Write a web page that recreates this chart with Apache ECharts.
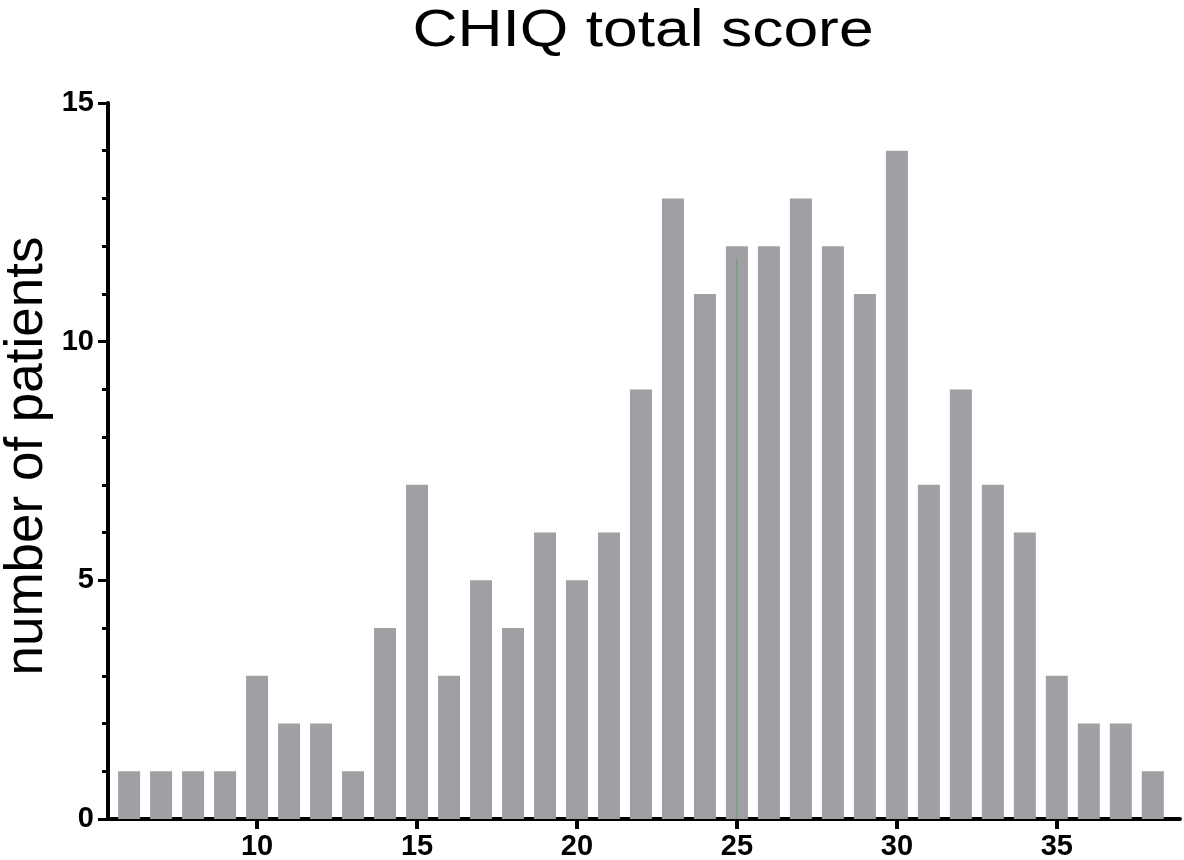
<!DOCTYPE html>
<html>
<head>
<meta charset="utf-8">
<script src="https://cdn.jsdelivr.net/npm/echarts@6/dist/echarts.min.js"></script>
<style>html,body{margin:0;padding:0;background:#fff;}#chart{width:1184px;height:860px;}</style>
</head>
<body>
<div id="chart"></div>
<script>
const titleText = 'CHIQ total score';
const yAxisName = 'number of patients';
const scores = [6,7,8,9,10,11,12,13,14,15,16,17,18,19,20,21,22,23,24,25,26,27,28,29,30,31,32,33,34,35,36,37,38];
const patients = [1,1,1,1,3,2,2,1,4,7,3,5,4,6,5,6,9,13,11,12,12,13,12,11,14,7,9,7,6,3,2,2,1];
const xTickValues = [10,15,20,25,30,35];
const medianScore = 25;
const medianLineTop = 11.75;

const chart = echarts.init(document.getElementById('chart'));
const labelStyle = { fontFamily: '"Liberation Sans", Arial, sans-serif', fontWeight: 'bold', fontSize: 29, color: '#000' };
chart.setOption({
  backgroundColor: '#fff',
  animation: false,
  graphic: [{
    type: 'text', x: 643, y: 32, scaleX: 1.2,
    style: { text: titleText, x: 0, y: 0, align: 'center', verticalAlign: 'middle',
             font: '52px "Liberation Sans", Arial, sans-serif', fill: '#000' }
  }, {
    type: 'text', x: 27, y: 456, rotation: Math.PI / 2,
    style: { text: yAxisName, x: 0, y: 0, align: 'center', verticalAlign: 'middle',
             font: '53px "Liberation Sans", Arial, sans-serif', fill: '#000' }
  }],
  grid: { left: 108, right: 4, top: 103, bottom: 41, containLabel: false, outerBoundsMode: 'none' },
  xAxis: {
    type: 'value', min: 5.34, max: 38.85,
    axisLine: { show: true, onZero: false, lineStyle: { color: '#000', width: 4 } },
    axisTick: { show: true, length: 10, lineStyle: { color: '#000', width: 4 }, customValues: xTickValues },
    axisLabel: {
      margin: 13, customValues: xTickValues,
      fontFamily: labelStyle.fontFamily, fontWeight: 'bold', fontSize: 29, color: '#000'
    },
    splitLine: { show: false }
  },
  yAxis: {
    type: 'value', min: 0, max: 15, interval: 5,
    axisLine: { show: true, lineStyle: { color: '#000', width: 4 } },
    axisTick: { show: true, length: 10, lineStyle: { color: '#000', width: 3 } },
    minorTick: { show: true, splitNumber: 5, length: 6, lineStyle: { color: '#000', width: 3 } },
    axisLabel: {
      margin: 14,
      fontFamily: labelStyle.fontFamily, fontWeight: 'bold', fontSize: 29, color: '#000'
    },
    splitLine: { show: false }
  },
  series: [
    {
      type: 'bar', barWidth: 22,
      itemStyle: { color: '#a09fa4' },
      data: scores.map((s, i) => [s, patients[i]])
    },
    {
      type: 'line', symbol: 'none', z: 5,
      lineStyle: { color: '#7d9c84', width: 1.5 },
      data: [[medianScore, 0], [medianScore, medianLineTop]]
    }
  ]
});
</script>
</body>
</html>
